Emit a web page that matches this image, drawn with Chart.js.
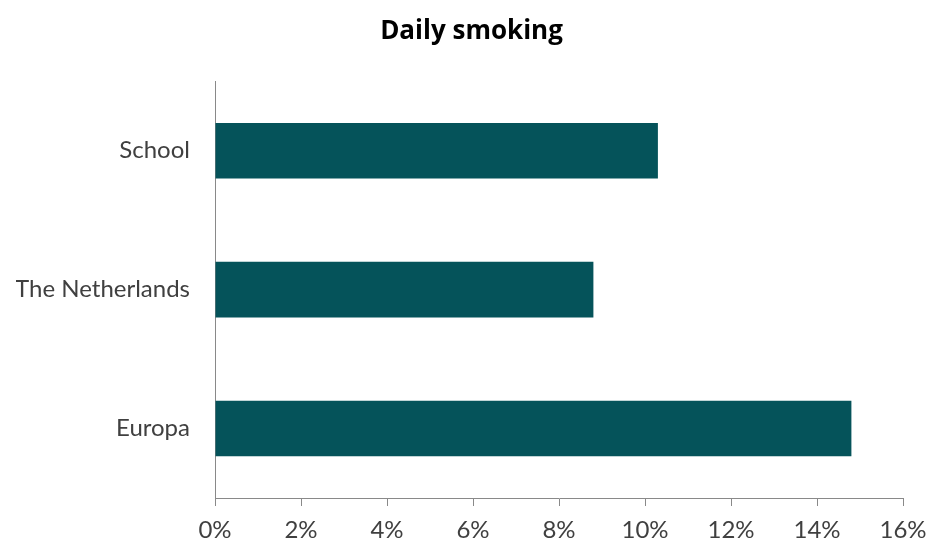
<!DOCTYPE html>
<html>
<head>
<meta charset="utf-8">
<script src="https://cdn.jsdelivr.net/npm/chart.js@4/dist/chart.umd.min.js"></script>
<style>
html,body{margin:0;padding:0;background:#fff;}
#wrap{width:927px;height:545px;position:relative;}
</style>
</head>
<body>
<div id="wrap"><canvas id="c" width="927" height="545"></canvas></div>
<script>
const categories = ["School", "The Netherlands", "Europa"];
const values = [10.3, 8.8, 14.8];
const tickValues = [0, 2, 4, 6, 8, 10, 12, 14, 16];
const titleText = "Daily smoking";

const FONT = "Lato, 'Open Sans', sans-serif";
const TITLE_FONT = "'Open Sans', Lato, sans-serif";
const axisColor = "#898989";

new Chart(document.getElementById("c"), {
  type: "bar",
  data: {
    labels: categories,
    datasets: [{
      data: values,
      backgroundColor: "#05535A",
      borderWidth: 0,
      barPercentage: 0.4,
      categoryPercentage: 1.0
    }]
  },
  options: {
    indexAxis: "y",
    responsive: false,
    animation: false,
    layout: { padding: { left: 16, right: 0, top: 0, bottom: 0 } },
    plugins: {
      legend: { display: false },
      tooltip: { enabled: false },
      title: {
        display: true,
        text: titleText,
        color: "#000",
        font: { family: TITLE_FONT, size: 26, weight: "bold", lineHeight: 1.2 },
        padding: { top: 16, bottom: 34 }
      }
    },
    scales: {
      x: {
        min: 0, max: 16,
        afterBuildTicks: s => { s.ticks = tickValues.map(v => ({ value: v })); },
        afterFit: s => { s.height = 47; s.paddingLeft = 0; s.paddingRight = 24; },
        grid: { display: true, drawOnChartArea: false, drawTicks: true, tickLength: 8, color: axisColor, lineWidth: 1 },
        border: { display: true, color: axisColor, width: 1 },
        ticks: {
          color: "#404040",
          font: { family: FONT, size: 24 },
          padding: 10,
          maxRotation: 0,
          callback: v => v + "%"
        }
      },
      y: {
        afterFit: s => { s.width = 199; },
        grid: { display: false, drawTicks: false },
        border: { display: true, color: axisColor, width: 1 },
        ticks: {
          color: "#404040",
          font: { family: FONT, size: 24 },
          padding: 25
        }
      }
    }
  }
});
</script>
</body>
</html>
